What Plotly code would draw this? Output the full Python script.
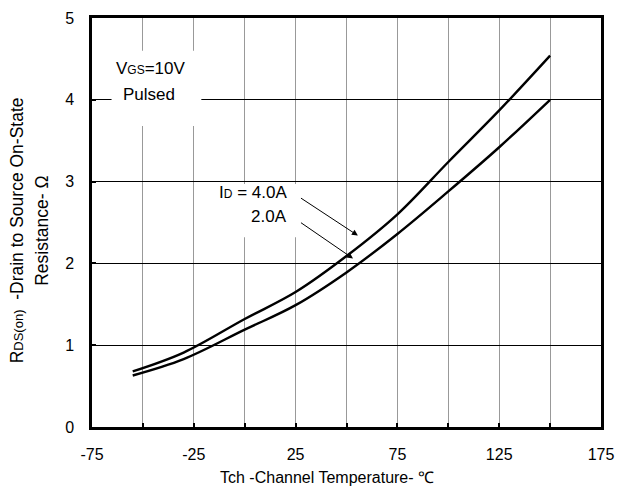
import plotly.graph_objects as go

# Data
temp_4A = [-55, -30, 0, 25, 50, 75, 100, 125, 150]
rds_4A = [0.68, 0.91, 1.32, 1.65, 2.09, 2.60, 3.24, 3.87, 4.54]
temp_2A = [-55, -30, 0, 25, 50, 75, 100, 125, 150]
rds_2A = [0.63, 0.83, 1.19, 1.49, 1.89, 2.36, 2.88, 3.42, 4.00]

x_ticks = [-75, -50, -25, 0, 25, 50, 75, 100, 125, 150, 175]
x_labels = ["-75", "", "-25", "", "25", "", "75", "", "125", "", "175"]
y_ticks = [0, 1, 2, 3, 4, 5]

FONT = "Arial, 'Liberation Sans', sans-serif"

fig = go.Figure()
for xs, ys in [(temp_4A, rds_4A), (temp_2A, rds_2A)]:
    fig.add_trace(go.Scatter(x=xs, y=ys, mode="lines",
                             line=dict(color="black", width=2.4, shape="spline", smoothing=1.0),
                             showlegend=False, hoverinfo="skip"))

# white boxes hiding the grid behind labels
for x0, x1, y0, y1 in [(-65.4, -21.3, 3.68, 4.60), (-13, 28.3, 2.32, 2.97)]:
    fig.add_shape(type="rect", x0=x0, x1=x1, y0=y0, y1=y1, xref="x", yref="y",
                  fillcolor="white", line=dict(width=0), layer="between")

sub = "<span style='font-size:12px'>%s</span>"
ann = [
    dict(x=-64.0, y=4.38, text="V" + sub % "GS" + "=10V", xanchor="left"),
    dict(x=-60.6, y=4.06, text="Pulsed", xanchor="left"),
    dict(x=21.9, y=2.87, text="I" + sub % "D" + " = 4.0A", xanchor="right"),
    dict(x=21.9, y=2.57, text="2.0A", xanchor="right"),
]
for a in ann:
    fig.add_annotation(xref="x", yref="y", yanchor="middle", showarrow=False,
                       font=dict(family=FONT, size=17, color="black"), **a)

for tx, ty, hx, hy in [(26.9, 2.81, 55.6, 2.34), (26.9, 2.51, 53.2, 2.06)]:
    fig.add_annotation(x=hx, y=hy, ax=tx, ay=ty, xref="x", yref="y", axref="x", ayref="y",
                       text="", showarrow=True, arrowhead=2, arrowsize=1.2, arrowwidth=1,
                       arrowcolor="black", standoff=0)

# axis titles
fig.add_annotation(xref="paper", yref="paper", x=0.4615, y=-0.123, yanchor="middle",
                   text="Tch -Channel Temperature- ℃", showarrow=False,
                   font=dict(family=FONT, size=16, color="black"))
fig.add_annotation(xref="paper", yref="paper", x=-0.148, y=0.48, xanchor="center", yanchor="middle",
                   textangle=-90, showarrow=False,
                   text="R<span style='font-size:13px'>DS(on)</span>  -Drain to Source On-State",
                   font=dict(family=FONT, size=17.5, color="black"))
fig.add_annotation(xref="paper", yref="paper", x=-0.098, y=0.48, xanchor="center", yanchor="middle",
                   textangle=-90, showarrow=False, text="Resistance- Ω",
                   font=dict(family=FONT, size=17.5, color="black"))

fig.update_layout(
    width=624, height=490,
    margin=dict(l=92, r=17, t=10, b=63),
    paper_bgcolor="white", plot_bgcolor="white",
    font=dict(family=FONT, size=16, color="black"),
    xaxis=dict(range=[-75, 175], tickvals=x_ticks, ticktext=x_labels,
               showgrid=True, gridcolor="#999999", gridwidth=1,
               ticks="inside", ticklen=4, tickwidth=2, tickcolor="black",
               showline=True, linecolor="black", linewidth=2.5, mirror=True,
               zeroline=False, ticklabelstandoff=11),
    yaxis=dict(range=[0, 5], tickvals=y_ticks,
               showgrid=True, gridcolor="black", gridwidth=1,
               ticks="inside", ticklen=4, tickwidth=2, tickcolor="black",
               showline=True, linecolor="black", linewidth=2.5, mirror=True,
               zeroline=False, ticklabelstandoff=12),
)

fig.write_html("out.html")
